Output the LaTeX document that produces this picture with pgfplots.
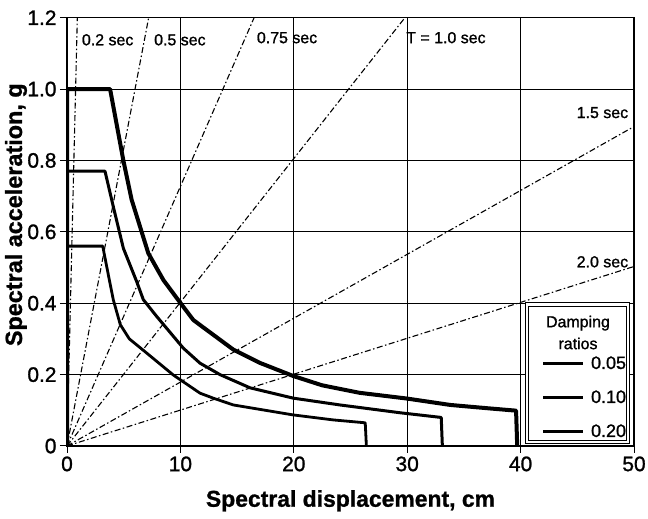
\documentclass[border=0pt]{standalone}
\usepackage{fontspec}
\setmainfont{Liberation Sans}
\newfontfamily\heavy[RawFeature={embolden=1.2}]{Liberation Sans}
\newfontfamily\heavybf[RawFeature={embolden=1.0}]{Liberation Sans Bold}
\usepackage{pgfplots}
\pgfplotsset{compat=1.18}
\tikzset{plab/.style={font=\heavy\fontsize{16}{16}\selectfont, inner sep=0pt}}
\begin{document}
\begin{tikzpicture}[x=1bp,y=1bp]
\path[use as bounding box] (0,0) rectangle (648,519);
\begin{axis}[at={(67bp,73bp)}, anchor=south west, scale only axis,
  width=567bp, height=428.3bp,
  xmin=0, xmax=50, ymin=0, ymax=1.2,
  xtick={0,10,20,30,40,50}, ytick={0,0.2,0.4,0.6,0.8,1.0,1.2},
  xticklabels={0,10,20,30,40,50},
  yticklabels={0,0.2,0.4,0.6,0.8,1.0,1.2},
  xtick pos=lower, ytick pos=left,
  tick align=outside, major tick length=7bp,
  tick style={black, line width=1bp},
  grid=major, major grid style={black, line width=1bp},
  axis line style={black, line width=1.2bp},
  ticklabel style={font=\heavy\fontsize{21}{21}\selectfont},
  /pgf/number format/assume math mode=true,
  xlabel={Spectral displacement, cm},
  ylabel={Spectral acceleration, g},
  xlabel style={font=\heavybf\fontsize{23}{23}\selectfont, at={(axis description cs:0.5,-0.128)}, anchor=center},
  ylabel style={font=\heavybf\fontsize{23.5}{23.5}\selectfont, at={(axis description cs:-0.09,0.54)}, anchor=center},
  legend style={at={(axis cs:41.86,0.257)}, anchor=north west, draw=none, fill=none,
    font=\heavy\fontsize{18}{18}\selectfont, inner sep=0pt, row sep=16bp,
    /tikz/every odd column/.append style={column sep=5bp}},
  legend cell align=left,
  legend image code/.code={\draw[#1, line width=2.2bp] (0bp,0bp) -- (40bp,0bp);},
]
% radial period lines
\pgfplotsset{radial/.style={black, line width=1.1bp, dash pattern=on 6bp off 2.5bp on 1.5bp off 2.5bp, forget plot}}
\addplot[radial] coordinates {(0,0) (0.91,1.2)};
\addplot[radial] coordinates {(0,0) (7.2,1.2)};
\addplot[radial] coordinates {(0,0) (16.5,1.2)};
\addplot[radial] coordinates {(0,0) (29.8,1.2)};
\addplot[radial] coordinates {(0,0) (50,0.895)};
\addplot[radial] coordinates {(0,0) (50,0.503)};
% demand spectra
\addplot[black, line width=4bp, line join=round] coordinates {
(0,0) (0,1.0) (3.8,1.0) (4.97,0.8) (5.7,0.69) (7.17,0.54) (8.5,0.465) (9.9,0.405)
(11.14,0.353) (11.73,0.339) (14.67,0.27) (17,0.233) (19.96,0.196) (22.5,0.17)
(25.8,0.149) (29.96,0.133) (33.8,0.115) (37,0.106) (39.6,0.099) (39.7,0)};
\addlegendentry{0.05}
\addplot[black, line width=3bp, line join=round] coordinates {
(0,0) (0,0.77) (3.35,0.77) (4.08,0.671) (4.97,0.554) (6.14,0.461) (6.73,0.41)
(7.91,0.363) (10.26,0.274) (11.73,0.232) (13.49,0.2) (16.14,0.163) (19.96,0.134)
(24.07,0.115) (29.4,0.093) (33.0,0.08) (33.1,0)};
\addlegendentry{0.10}
\addplot[black, line width=2.8bp, line join=round] coordinates {
(0,0) (0,0.56) (3.15,0.56) (3.79,0.456) (4.08,0.41) (4.7,0.34) (5.5,0.3) (6.66,0.27)
(9.37,0.199) (11.73,0.148) (12.9,0.134) (14.67,0.115) (19.96,0.087) (23.5,0.073)
(26.3,0.065) (26.4,0)};
\addlegendentry{0.20}
% period labels
\node[plab, anchor=west] at (axis cs:1.30,1.138) {0.2 sec};
\node[plab, anchor=west] at (axis cs:7.67,1.138) {0.5 sec};
\node[plab, anchor=west] at (axis cs:16.73,1.144) {0.75 sec};
\node[plab, anchor=west] at (axis cs:29.9,1.144) {T = 1.0 sec};
\node[plab, anchor=east] at (axis cs:49.5,0.934) {1.5 sec};
\node[plab, anchor=east] at (axis cs:49.5,0.516) {2.0 sec};
% legend box
\filldraw[fill=white, draw=black, line width=0.8bp] (axis cs:40.4,0.008) rectangle (axis cs:49.6,0.401);
\draw[black, line width=0.8bp] (axis cs:40.65,0.017) rectangle (axis cs:49.35,0.392);
\node[align=center, font=\heavy\fontsize{16}{22}\selectfont, inner sep=0pt] at (axis cs:45.06,0.318) {Damping\\ratios};
\end{axis}
\end{tikzpicture}
\end{document}
